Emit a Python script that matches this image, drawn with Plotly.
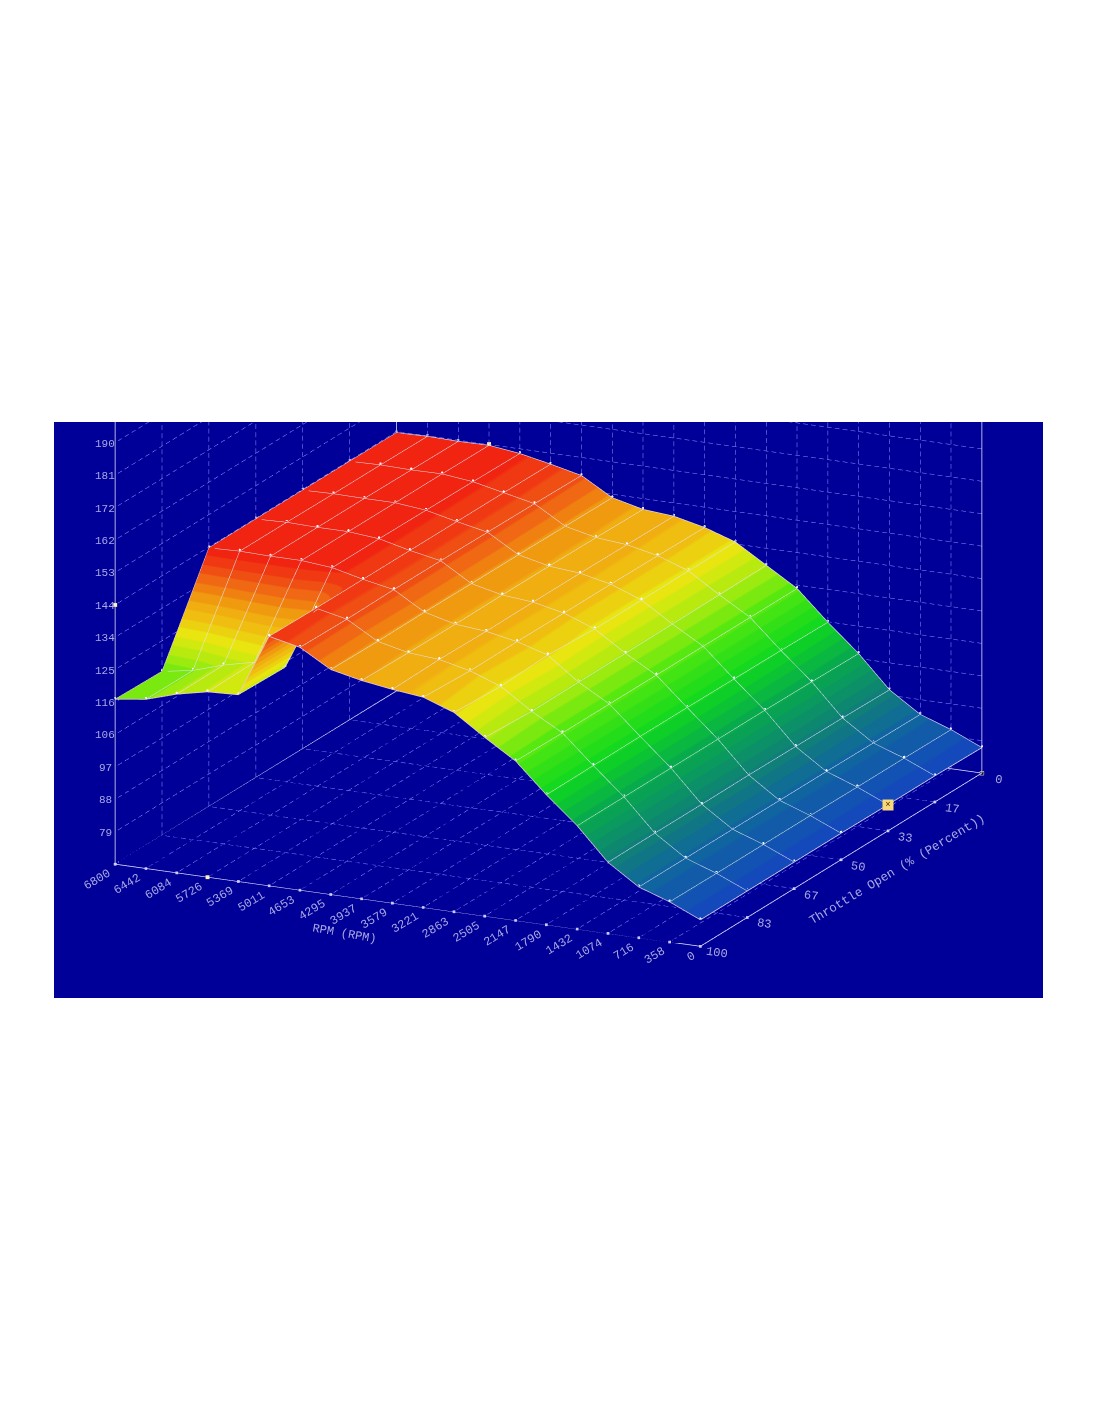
import plotly.graph_objects as go

rpm = [0, 357.9, 715.8, 1073.7, 1431.6, 1789.5, 2147.4, 2505.3, 2863.2, 3221.1, 3578.9, 3936.8, 4294.7, 4652.6, 5010.5, 5368.4, 5726.3, 6084.2, 6442.1, 6800]
rpm_labels = ["0", "358", "716", "1074", "1432", "1790", "2147", "2505", "2863", "3221", "3579", "3937", "4295", "4653", "5011", "5369", "5726", "6084", "6442", "6800"]
throttle = [0, 16.67, 33.33, 50, 66.67, 83.33, 100]
throttle_labels = ["0", "17", "33", "50", "67", "83", "100"]
z_ticks = [79, 88, 97, 106, 116, 125, 134, 144, 153, 162, 172, 181, 190]
z_positions = [78.99, 88.24, 97.49, 106.74, 115.99, 125.24, 134.49, 143.74, 152.99, 162.24, 171.49, 180.74, 189.99]

th0 = [77.0, 80.9, 84.0, 89.8, 98.9, 106.6, 115.0, 120.4, 125.8, 128.7, 130.7, 131.4, 133.5, 138.6, 140.6, 142.4, 143.5, 143.4, 143.6, 143.4]
th17 = [77.2, 81.0, 84.1, 90.0, 99.1, 106.8, 115.0, 120.2, 125.8, 128.9, 130.8, 131.6, 133.6, 138.8, 140.7, 142.6, 143.6, 143.5, 143.7, 143.5]
th33 = [77.2, 81.0, 84.2, 90.1, 99.2, 106.9, 115.0, 120.1, 125.7, 129.0, 130.9, 131.7, 133.7, 138.9, 140.7, 142.7, 143.6, 143.6, 143.7, 143.5]
th50 = [77.3, 81.1, 84.2, 90.2, 99.2, 107.0, 115.0, 120.0, 125.7, 129.0, 130.9, 131.7, 133.7, 139.0, 140.7, 142.8, 143.6, 143.6, 143.8, 143.5]
th67 = [77.3, 81.1, 84.2, 90.1, 99.2, 107.0, 115.0, 120.0, 126.5, 129.1, 130.8, 131.6, 133.8, 139.0, 140.7, 142.8, 143.6, 143.6, 143.8, 143.5]
th83 = [77.3, 81.1, 84.2, 90.1, 99.2, 106.9, 115.0, 119.9, 125.8, 129.0, 131.0, 131.7, 133.7, 138.8, 140.7, 122.6, 122.8, 120.8, 118.0, 116.5]
th100 = [77.3, 81.2, 84.2, 90.0, 99.2, 106.8, 115.2, 120.7, 126.6, 129.7, 130.7, 132.0, 133.9, 139.0, 140.9, 123.0, 122.6, 120.7, 118.0, 116.8]
surface_rows = [th0, th17, th33, th50, th67, th83, th100]

colour_stops = [
    (77, "#1545c0"), (84, "#1065a0"), (90, "#108078"), (99, "#08a850"),
    (107, "#10d820"), (115, "#50e810"), (120, "#a8ec10"), (125, "#e8e810"),
    (129, "#f0c010"), (132, "#f0a810"), (134, "#f09010"), (139, "#f05015"), (144, "#f01a10"),
]
BANDS = 34
Z_RANGE = [69.75, 199.25]
R_PX = 3.0
DIR = (-0.412, 0.8627, 0.294)
CZ = -0.43
LIFT = 0.4
LINE = "#e8e8ff"
TEXT = "#a8a8e4"
GRID = "#9494ff"
DASH_PX = 8
PX_RPM, PX_THROTTLE, PX_Z = 592, 330, 452


def rgb(h):
    return tuple(int(h[i:i + 2], 16) for i in (1, 3, 5))


def mix(t):
    lo, hi = colour_stops[0][0], colour_stops[-1][0]
    v = lo + t * (hi - lo)
    for (a, ca), (b, cb) in zip(colour_stops, colour_stops[1:]):
        if v <= b:
            f = (v - a) / (b - a)
            p, q = rgb(ca), rgb(cb)
            return "rgb(%d,%d,%d)" % tuple(p[k] + f * (q[k] - p[k]) for k in range(3))
    return colour_stops[-1][1]


scale = []
for n in range(BANDS):
    c = mix((n + 0.5) / BANDS)
    scale += [[n / BANDS, c], [(n + 1) / BANDS, c]]

zb, zt = Z_RANGE
x0, x1 = rpm[0], rpm[-1]
y0, y1 = throttle[0], throttle[-1]

fig = go.Figure()

# dashed wall and floor grid
gx, gy, gz = [], [], []


def dashed(a, b, px):
    n = max(1, round(px / DASH_PX))
    for k in range(n):
        s = k / n
        e = (k + 0.6) / n
        gx.extend([a[0] + s * (b[0] - a[0]), a[0] + e * (b[0] - a[0]), None])
        gy.extend([a[1] + s * (b[1] - a[1]), a[1] + e * (b[1] - a[1]), None])
        gz.extend([a[2] + s * (b[2] - a[2]), a[2] + e * (b[2] - a[2]), None])


for r in rpm[1:-1]:
    dashed((r, y0, zb), (r, y1, zb), PX_THROTTLE)
    dashed((r, y0, zb), (r, y0, zt), PX_Z)
for t in throttle[1:-1]:
    dashed((x0, t, zb), (x1, t, zb), PX_RPM)
    dashed((x1, t, zb), (x1, t, zt), PX_Z)
for v in z_positions:
    dashed((x0, y0, v), (x1, y0, v), PX_RPM)
    dashed((x1, y0, v), (x1, y1, v), PX_THROTTLE)
fig.add_trace(go.Scatter3d(x=gx, y=gy, z=gz, mode="lines", hoverinfo="skip", showlegend=False,
                           line=dict(color=GRID, width=1)))

fig.add_trace(go.Surface(
    x=rpm, y=throttle, z=surface_rows, surfacecolor=surface_rows,
    colorscale=scale, cmin=colour_stops[0][0], cmax=colour_stops[-1][0],
    showscale=False, hoverinfo="skip",
    lighting=dict(ambient=1, diffuse=0, specular=0, roughness=1, fresnel=0),
    contours=dict(
        x=dict(show=True, start=x0, end=x1, size=x1 / (len(rpm) - 1), color="#e4e4f4", width=1, highlight=False),
        y=dict(show=True, start=y0, end=y1, size=y1 / (len(throttle) - 1), color="#e4e4f4", width=1, highlight=False),
        z=dict(highlight=False),
    ),
))

# surface outline
ex = rpm + [x1] * len(throttle) + [None] + [x0] * len(throttle) + rpm
ey = [y0] * len(rpm) + throttle + [None] + throttle + [y1] * len(rpm)
ez = th0 + [row[-1] for row in surface_rows] + [None] + [row[0] for row in surface_rows] + th100
fig.add_trace(go.Scatter3d(x=ex, y=ey, z=ez, mode="lines", hoverinfo="skip", showlegend=False,
                           line=dict(color="#e8c8e8", width=1.5)))

# vertex dots
vx = [r for _ in throttle for r in rpm]
vy = [t for t in throttle for _ in rpm]
vz = [v + LIFT for row in surface_rows for v in row]
fig.add_trace(go.Scatter3d(x=vx, y=vy, z=vz, mode="markers", hoverinfo="skip", showlegend=False,
                           marker=dict(size=1.3, color="rgba(225,225,250,0.7)")))

fx = [x0, x1, None, x0, x0, None, x1, x1, None, x0, x1, None, x1, x1, None, x1, x1, None, x0, x0]
fy = [y1, y1, None, y1, y0, None, y1, y0, None, y0, y0, None, y1, y1, None, y0, y0, None, y0, y0]
fz = [zb, zb, None, zb, zb, None, zb, zb, None, zb, zb, None, zb, zt, None, zb, zt, None, zb, zt]
fig.add_trace(go.Scatter3d(x=fx, y=fy, z=fz, mode="lines", hoverinfo="skip", showlegend=False,
                           line=dict(color=LINE, width=1.5)))

tx = rpm + [x0] * len(throttle)
ty = [y1] * len(rpm) + throttle
tz = [zb] * (len(rpm) + len(throttle))
fig.add_trace(go.Scatter3d(x=tx, y=ty, z=tz, mode="markers", hoverinfo="skip",
                           showlegend=False, marker=dict(size=1.4, symbol="square", color="#c8c8ff")))

fig.add_trace(go.Scatter3d(x=[rpm[-1], rpm[16], rpm[16]], y=[throttle[-1], throttle[-1], throttle[0]],
                           z=[z_positions[7], zb, surface_rows[0][16] + LIFT], mode="markers", hoverinfo="skip",
                           showlegend=False, marker=dict(size=2, symbol="square", color="#fff4b0")))
fig.add_trace(go.Scatter3d(x=[rpm[0]], y=[throttle[0]], z=[zb], mode="markers", hoverinfo="skip", showlegend=False,
                           marker=dict(size=2, symbol="square", color="#101030", line=dict(color="#f0f0f0", width=1))))

tick_font = dict(family="Liberation Mono", size=12, color=TEXT)
z_font = dict(family="Liberation Mono", size=11, color=TEXT)
notes = []
rpm_offset = {1: (-9, -11), 3: (-15, -14), 4: (-18, -16)}
for r, label in zip(rpm, rpm_labels):
    dx, dy = rpm_offset[len(label)]
    notes.append(dict(x=r, y=y1, z=zb, text=label, showarrow=False, xshift=dx, yshift=dy, textangle=-31, font=tick_font))
for t, label in zip(throttle, throttle_labels):
    notes.append(dict(x=x0, y=t, z=zb, text=label, showarrow=False, xshift=17, yshift=-7, textangle=8, font=tick_font))
for v, label in zip(z_positions, z_ticks):
    notes.append(dict(x=x1, y=y1, z=v, text=str(label), showarrow=False, xshift=-10, yshift=-1, font=z_font))
notes.append(dict(x=rpm[10], y=y1, z=zb, text="RPM (RPM)", showarrow=False, xshift=-48, yshift=-31, textangle=10,
                  font=dict(family="Liberation Mono", size=12, color=TEXT)))
notes.append(dict(x=x0, y=50, z=zb, text="Throttle Open (% (Percent))", showarrow=False, xshift=56, yshift=-10,
                  textangle=-31, font=dict(family="Liberation Mono", size=12.5, color=TEXT)))
notes.append(dict(x=rpm[0], y=throttle[2], z=surface_rows[2][0], text="×", showarrow=False, bgcolor="#f8d878",
                  width=10, height=10, borderpad=0, font=dict(family="Liberation Mono", size=9, color="#503000")))

common = dict(showbackground=False, showgrid=False, zeroline=False, showspikes=False,
              showline=False, showticklabels=False, ticks="", tickmode="array", title=dict(text=""))
fig.update_layout(
    width=1100, height=1422, margin=dict(l=0, r=0, t=0, b=0),
    paper_bgcolor="white", showlegend=False,
    scene=dict(
        domain=dict(x=[46 / 1100, 1035 / 1100], y=[1 - 990 / 1422, 1 - 414 / 1422]),
        bgcolor="#000099",
        aspectmode="manual", aspectratio=dict(x=2.252, y=2.268, z=1.649),
        camera=dict(
            projection=dict(type="orthographic"), up=dict(x=0, y=0, z=1),
            center=dict(x=0, y=0, z=CZ),
            eye=dict(x=R_PX * DIR[0], y=R_PX * DIR[1], z=CZ + R_PX * DIR[2]),
        ),
        annotations=notes,
        xaxis=dict(common, range=[x0, x1], tickvals=rpm, ticktext=rpm_labels),
        yaxis=dict(common, range=[y0, y1], tickvals=throttle, ticktext=throttle_labels),
        zaxis=dict(common, range=Z_RANGE, tickvals=z_positions, ticktext=[str(v) for v in z_ticks]),
    ),
)
fig.write_html("out.html")
